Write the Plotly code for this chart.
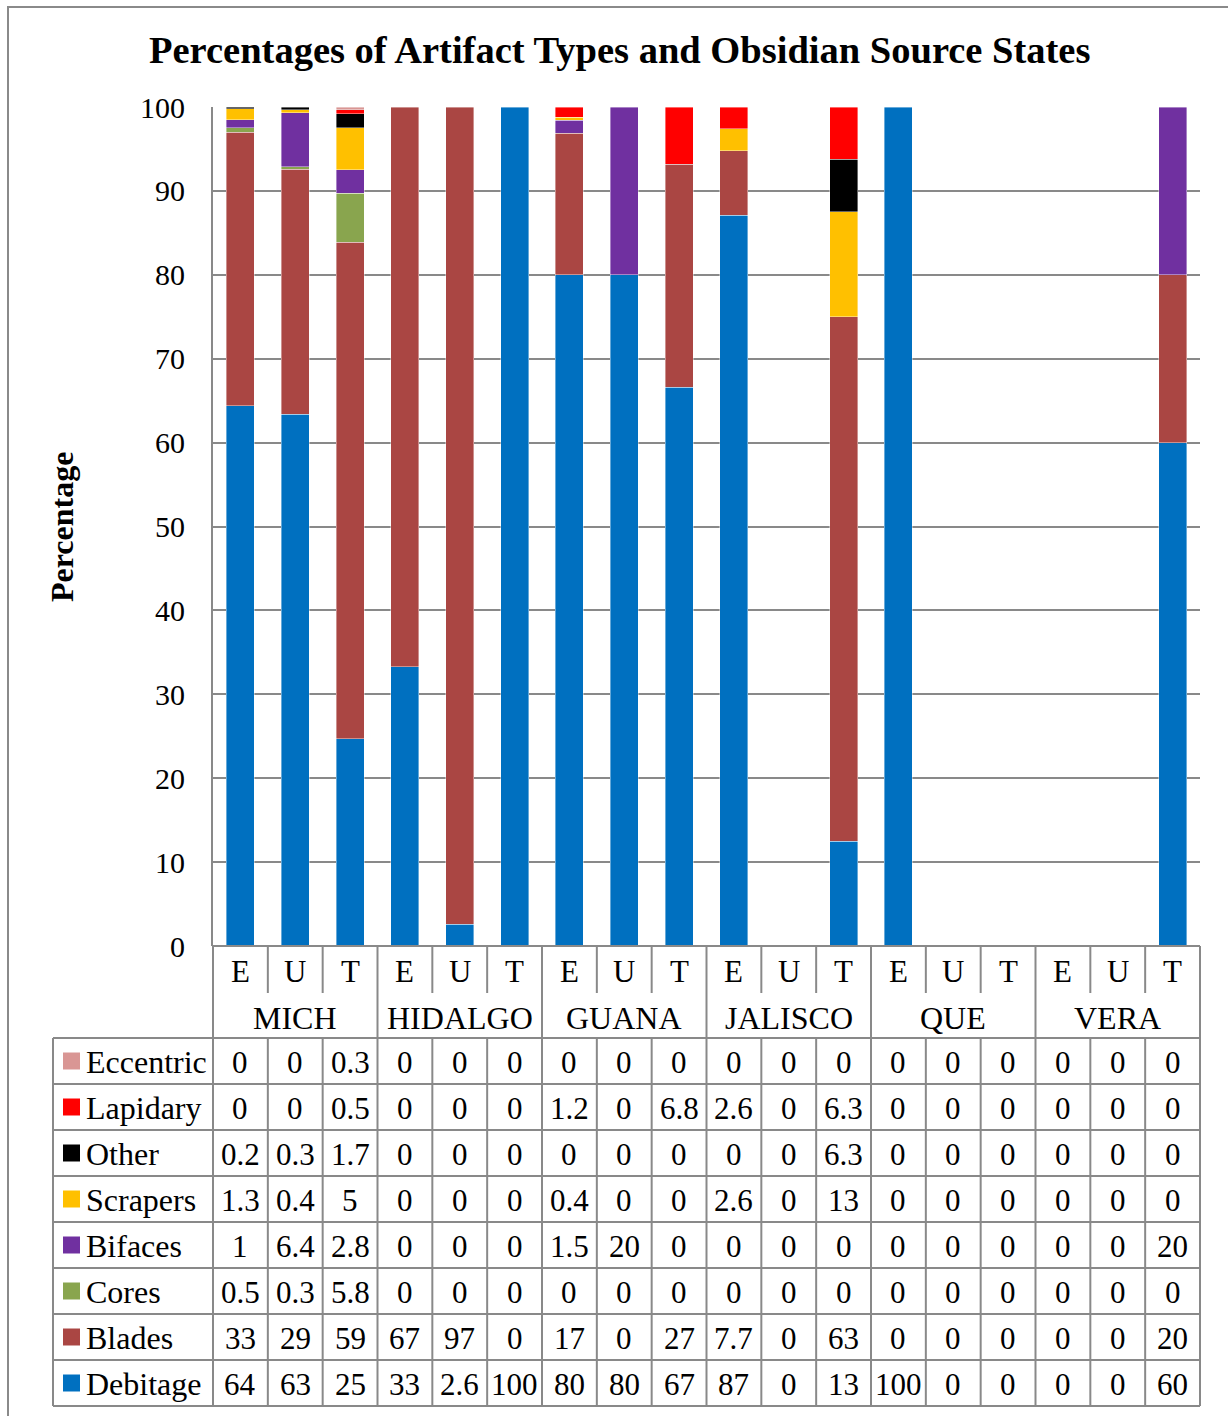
import plotly.graph_objects as go
from decimal import Decimal, ROUND_HALF_UP

W, H = 1228, 1416

groups = ["MICH", "HIDALGO", "GUANA", "JALISCO", "QUE", "VERA"]
periods = ["E", "U", "T"]

# 18 categories: each group x (E, U, T); percentages per artifact type
debitage  = [64.4, 63.4, 24.7, 33.3, 2.6, 100, 80.0, 80.0, 66.6, 87.1, 0, 12.5, 100, 0, 0, 0, 0, 60]
blades    = [32.6, 29.2, 59.2, 66.7, 97.4, 0, 16.9, 0, 26.6, 7.7, 0, 62.5, 0, 0, 0, 0, 0, 20]
cores     = [0.5, 0.3, 5.8, 0, 0, 0, 0, 0, 0, 0, 0, 0, 0, 0, 0, 0, 0, 0]
bifaces   = [1.0, 6.4, 2.8, 0, 0, 0, 1.5, 20, 0, 0, 0, 0, 0, 0, 0, 0, 0, 20]
scrapers  = [1.3, 0.4, 5.0, 0, 0, 0, 0.4, 0, 0, 2.6, 0, 12.5, 0, 0, 0, 0, 0, 0]
other     = [0.2, 0.3, 1.7, 0, 0, 0, 0, 0, 0, 0, 0, 6.25, 0, 0, 0, 0, 0, 0]
lapidary  = [0, 0, 0.5, 0, 0, 0, 1.2, 0, 6.8, 2.6, 0, 6.25, 0, 0, 0, 0, 0, 0]
eccentric = [0, 0, 0.3, 0, 0, 0, 0, 0, 0, 0, 0, 0, 0, 0, 0, 0, 0, 0]

# stacking order (bottom -> top)
series = [
    ("Debitage", debitage, "#0070C0"),
    ("Blades", blades, "#AA4643"),
    ("Cores", cores, "#89A54E"),
    ("Bifaces", bifaces, "#7030A0"),
    ("Scrapers", scrapers, "#FFC000"),
    ("Other", other, "#000000"),
    ("Lapidary", lapidary, "#FF0000"),
    ("Eccentric", eccentric, "#D99694"),
]

FONT = "Liberation Serif, Times New Roman, serif"
GRID = "#898989"

# plot area in pixels
PX0, PX1 = 213, 1200
PY0, PY1 = 107, 946
N = len(groups) * len(periods)
CW = (PX1 - PX0) / N


def X(p):
    return p / W


def Y(p):
    return 1 - p / H


def fmt(v):
    if v == 0:
        return "0"
    d = Decimal(str(v))
    if v >= 10:
        return str(d.quantize(Decimal("1"), rounding=ROUND_HALF_UP))
    s = str(d.quantize(Decimal("0.1"), rounding=ROUND_HALF_UP))
    if s.endswith(".0"):
        s = s[:-2]
    return s


xs = list(range(N))
fig = go.Figure()
for name, vals, col in series:
    fig.add_trace(go.Bar(
        x=xs, y=[v if v != 0 else None for v in vals], name=name,
        marker=dict(color=col, line=dict(width=0.8, color="rgba(255,255,255,0.5)")),
        showlegend=False,
    ))

shapes = []
annotations = []


def hline(y, x0, x1):
    shapes.append(dict(type="line", xref="paper", yref="paper", x0=X(x0), x1=X(x1),
                       y0=Y(y), y1=Y(y), line=dict(color=GRID, width=2)))


def vline(x, y0, y1):
    shapes.append(dict(type="line", xref="paper", yref="paper", x0=X(x), x1=X(x),
                       y0=Y(y0), y1=Y(y1), line=dict(color=GRID, width=2)))


def text(t, x, y, size=31, xanchor="center", bold=False, angle=0):
    if bold:
        t = "<b>" + t + "</b>"
    annotations.append(dict(text=t, x=X(x), y=Y(y), xref="paper", yref="paper",
                            xanchor=xanchor, yanchor="middle", showarrow=False,
                            textangle=angle,
                            font=dict(family=FONT, size=size, color="#000000")))


# outer chart border
shapes.append(dict(type="rect", xref="paper", yref="paper", x0=X(8), x1=X(1240),
                   y0=Y(1430), y1=Y(7), line=dict(color="#8a8a8a", width=2)))

# data table geometry
ROW_EUT = (946, 993)
ROW_GRP = (993, 1038)
ROW_H = 46
TBL_TOP = 1038
TBL_L = 53
n_rows = len(series)
TBL_B = TBL_TOP + n_rows * ROW_H

hline(PY1, PX0, PX1)
for r in range(n_rows + 1):
    hline(TBL_TOP + r * ROW_H, TBL_L, PX1)
vline(TBL_L, TBL_TOP, TBL_B)
for i in range(N + 1):
    x = PX0 + i * CW
    if i % 3 == 0:
        vline(x, PY1, TBL_B)
    else:
        vline(x, PY1, ROW_EUT[1])
        vline(x, TBL_TOP, TBL_B)

# header text
for i in range(N):
    cx = PX0 + (i + 0.5) * CW
    text(periods[i % 3], cx, (ROW_EUT[0] + ROW_EUT[1]) / 2 + 2)
for g, name in enumerate(groups):
    cx = PX0 + (g * 3 + 1.5) * CW
    text(name, cx, (ROW_GRP[0] + ROW_GRP[1]) / 2 + 2, size=32)

# table rows (top -> bottom = reverse stacking order)
for r, (name, vals, col) in enumerate(reversed(series)):
    cy = TBL_TOP + r * ROW_H + ROW_H / 2
    shapes.append(dict(type="rect", xref="paper", yref="paper", x0=X(63), x1=X(80),
                       y0=Y(cy + 8.5), y1=Y(cy - 8.5), fillcolor=col,
                       line=dict(width=0)))
    text(name, 84, cy + 1, size=32, xanchor="left")
    for i, v in enumerate(vals):
        text(fmt(v), PX0 + (i + 0.5) * CW, cy + 1)

# titles
text("Percentages of Artifact Types and Obsidian Source States", 619, 50, size=38.5, bold=True)
text("Percentage", 62, 527, size=32, bold=True, angle=-90)

fig.update_layout(
    width=W, height=H,
    margin=dict(l=0, r=0, t=0, b=0, autoexpand=False),
    paper_bgcolor="white", plot_bgcolor="white",
    barmode="stack", bargap=0.49,
    shapes=shapes, annotations=annotations,
    xaxis=dict(domain=[X(PX0), X(PX1)], range=[-0.5, N - 0.5], visible=False,
               automargin=False),
    yaxis=dict(domain=[Y(PY1), Y(PY0)], range=[0, 100], dtick=10,
               showgrid=True, gridcolor=GRID, gridwidth=2, zeroline=False,
               showline=True, linecolor=GRID, linewidth=2, ticks="",
               ticklabelstandoff=20, automargin=False,
               tickfont=dict(family=FONT, size=30, color="#000000")),
    font=dict(family=FONT),
)

fig.write_html(
    "out.html",
    config={"displayModeBar": False},
    post_script="document.body.style.margin='0';document.body.style.padding='0';",
)
